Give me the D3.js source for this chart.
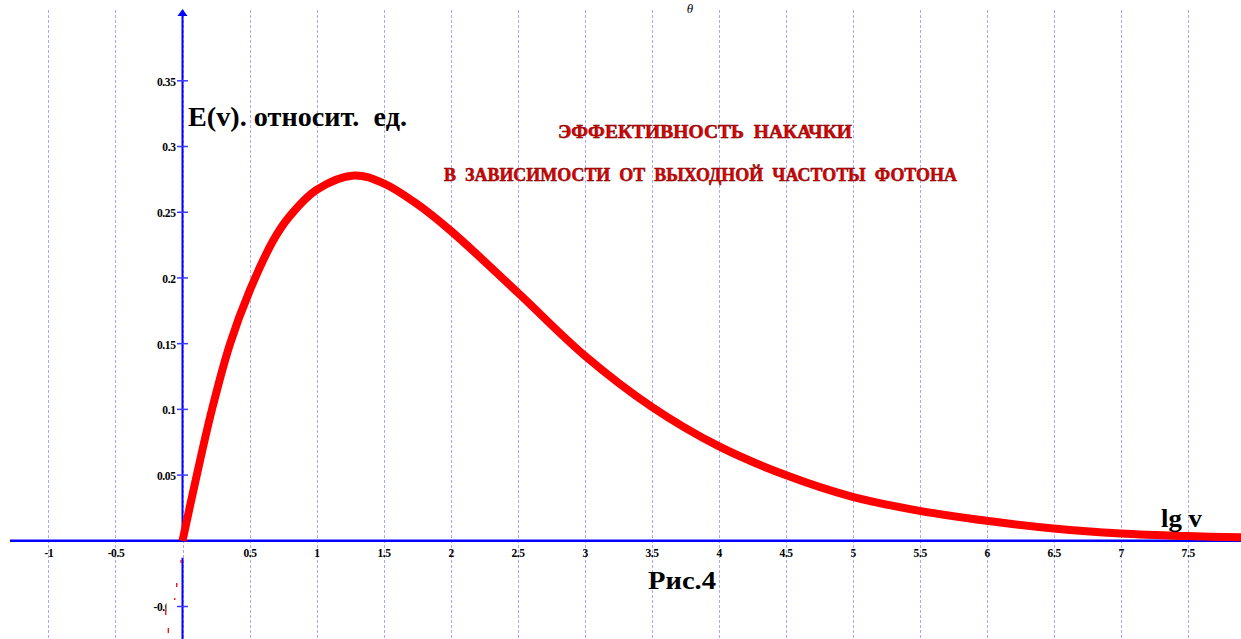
<!DOCTYPE html>
<html>
<head>
<meta charset="utf-8">
<script src="https://cdn.jsdelivr.net/npm/d3@7"></script>
<style>
  html, body { margin: 0; padding: 0; background: #fff; overflow: hidden; }
  svg { display: block; }
</style>
</head>
<body>
<svg id="chart" width="1241" height="639"></svg>
<script>
// Pumping efficiency E(ν) versus lg ν
const lgNu = [0, 0.1, 0.22, 0.355, 0.5, 0.68, 0.8, 1.0, 1.28, 1.5, 1.74, 2.0,
              2.5, 3.0, 3.5, 4.0, 4.5, 5.0, 5.5, 6.0, 6.5, 7.0, 7.5, 7.92];
const efficiency = [0, 0.047, 0.1, 0.15, 0.19, 0.229, 0.247, 0.267, 0.278, 0.272, 0.257, 0.236,
                    0.189, 0.141, 0.102, 0.072, 0.05, 0.0334, 0.0228, 0.0152, 0.0094, 0.0056, 0.0036, 0.0026];

// short red fragments of the trace below the axis
const traceU = [-0.011, -0.043, -0.058, -0.125, -0.106];
const traceV0 = [-0.0146, -0.0322, -0.0436, -0.0527, -0.0664];
const traceV1 = [-0.0169, -0.0352, -0.0451, -0.0565, -0.0702];

const gridValues = [-1, -0.5, 0, 0.5, 1, 1.5, 2, 2.5, 3, 3.5, 4, 4.5, 5, 5.5, 6, 6.5, 7, 7.5];
const xTickValues = [-1, -0.5, 0.5, 1, 1.5, 2, 2.5, 3, 3.5, 4, 4.5, 5, 5.5, 6, 6.5, 7, 7.5];
const xTickLabels = ["-1", "-0.5", "0.5", "1", "1.5", "2", "2.5", "3", "3.5", "4", "4.5",
                     "5", "5.5", "6", "6.5", "7", "7.5"];
const yTickValues = [-0.05, 0.05, 0.1, 0.15, 0.2, 0.25, 0.3, 0.35];
const yTickLabels = ["-0.05", "0.05", "0.1", "0.15", "0.2", "0.25", "0.3", "0.35"];

const W = 1241, H = 639;
const svg = d3.select("#chart");
const serif = "'Liberation Serif', 'DejaVu Serif', serif";

const x = d3.scaleLinear().domain([0, 7.5]).range([182.5, 1187.7]);
const y = d3.scaleLinear().domain([0, 0.35]).range([540.8, 80.8]);
const x0 = x(0), y0 = y(0);

// subscript from the page line above
svg.append("text").attr("x", 690).attr("y", 13).attr("text-anchor", "middle")
  .attr("font-family", serif).attr("font-style", "italic").attr("font-size", 13)
  .attr("fill", "#000").text("θ");

// vertical dashed grid
svg.append("g").selectAll("line").data(gridValues).join("line")
  .attr("x1", d => Math.round(x(d)) + 0.5).attr("x2", d => Math.round(x(d)) + 0.5)
  .attr("y1", 10).attr("y2", H)
  .attr("stroke", "#a8a8ff").attr("stroke-width", 1).attr("stroke-dasharray", "3,2");

// x axis line
svg.append("line").attr("x1", 10).attr("x2", W).attr("y1", y0).attr("y2", y0)
  .attr("stroke", "#0000ff").attr("stroke-width", 2.6);

// y axis line (broken where the x tick labels sit), with arrow
svg.append("line").attr("x1", x0).attr("x2", x0).attr("y1", 15).attr("y2", y0)
  .attr("stroke", "#0000ff").attr("stroke-width", 2);
svg.append("line").attr("x1", x0).attr("x2", x0).attr("y1", y0 + 17).attr("y2", H)
  .attr("stroke", "#0000ff").attr("stroke-width", 2);
svg.append("path")
  .attr("d", `M${x0},9 L${x0 - 5},16 L${x0 + 5},16 Z`)
  .attr("fill", "#0000ff");

// y ticks crossing the axis
svg.append("g").selectAll("line").data(yTickValues).join("line")
  .attr("x1", x0 - 5.5).attr("x2", x0 + 5.5)
  .attr("y1", d => y(d)).attr("y2", d => y(d))
  .attr("stroke", "#3a3aff").attr("stroke-width", 1.5);

// y tick labels (the lowest one is partly hidden)
const clip = svg.append("defs").append("clipPath").attr("id", "yclip");
clip.append("rect").attr("x", 0).attr("y", 0).attr("width", W).attr("height", y0 + 30);
clip.append("rect").attr("x", 0).attr("y", y0 + 30).attr("width", 166.5).attr("height", H);

const yAxis = d3.axisLeft(y).tickValues(yTickValues)
  .tickFormat((d, i) => yTickLabels[i]).tickSize(0).tickPadding(7);
const gy = svg.append("g").attr("clip-path", "url(#yclip)")
  .append("g").attr("transform", `translate(${x0},0)`).call(yAxis);
gy.select(".domain").remove();
gy.selectAll("text").attr("font-family", serif).attr("font-weight", "bold")
  .attr("font-size", 11.5).attr("fill", "#000").attr("dy", "0.38em")
  .attr("letter-spacing", -0.4);

// x tick labels
const xAxis = d3.axisBottom(x).tickValues(xTickValues)
  .tickFormat((d, i) => xTickLabels[i]).tickSize(0);
const gx = svg.append("g").attr("transform", `translate(0,${y0})`).call(xAxis);
gx.select(".domain").remove();
gx.selectAll("text").attr("font-family", serif).attr("font-weight", "bold")
  .attr("font-size", 11.5).attr("fill", "#000").attr("y", 16).attr("dy", 0)
  .attr("letter-spacing", -0.4);

// efficiency curve
const pts = lgNu.map((u, i) => ({u, v: efficiency[i]}));
const line = d3.line().x(d => x(d.u)).y(d => y(d.v)).curve(d3.curveCatmullRom.alpha(0.5));
svg.append("path").datum(pts).attr("d", line)
  .attr("fill", "none").attr("stroke", "#ff0000").attr("stroke-width", 8)
  .attr("stroke-linejoin", "round").attr("stroke-linecap", "butt");

svg.append("g").selectAll("line").data(traceU).join("line")
  .attr("x1", d => x(d)).attr("x2", d => x(d))
  .attr("y1", (d, i) => y(traceV0[i])).attr("y2", (d, i) => y(traceV1[i]))
  .attr("stroke", "#ff0000").attr("stroke-width", 1.3);

// axis captions
svg.append("text").attr("x", 188).attr("y", 126)
  .attr("font-family", serif).attr("font-weight", "bold").attr("font-size", 27)
  .attr("textLength", 219).attr("lengthAdjust", "spacingAndGlyphs")
  .attr("fill", "#000").attr("xml:space", "preserve").text("E(v). относит.  ед.");

svg.append("text").attr("x", 1161).attr("y", 527)
  .attr("font-family", serif).attr("font-weight", "bold").attr("font-size", 26)
  .attr("textLength", 41).attr("lengthAdjust", "spacingAndGlyphs")
  .attr("fill", "#000").text("lg v");

svg.append("text").attr("x", 648).attr("y", 589)
  .attr("font-family", serif).attr("font-weight", "bold").attr("font-size", 25)
  .attr("textLength", 68).attr("lengthAdjust", "spacingAndGlyphs")
  .attr("fill", "#000").text("Рис.4");

// red title
const titleLines = [
  {t: "ЭФФЕКТИВНОСТЬ  НАКАЧКИ", x: 558, y: 138, w: 294},
  {t: "В  ЗАВИСИМОСТИ  ОТ  ВЫХОДНОЙ  ЧАСТОТЫ  ФОТОНА", x: 444, y: 181, w: 513}
];
svg.selectAll("text.title").data(titleLines).join("text")
  .attr("class", "title").attr("x", d => d.x).attr("y", d => d.y)
  .attr("font-family", serif).attr("font-weight", "bold").attr("font-size", 18.5)
  .attr("textLength", d => d.w).attr("lengthAdjust", "spacingAndGlyphs")
  .attr("xml:space", "preserve")
  .attr("fill", "#e00000").attr("stroke", "#6a0000").attr("stroke-width", 0.5)
  .text(d => d.t);
</script>
</body>
</html>
